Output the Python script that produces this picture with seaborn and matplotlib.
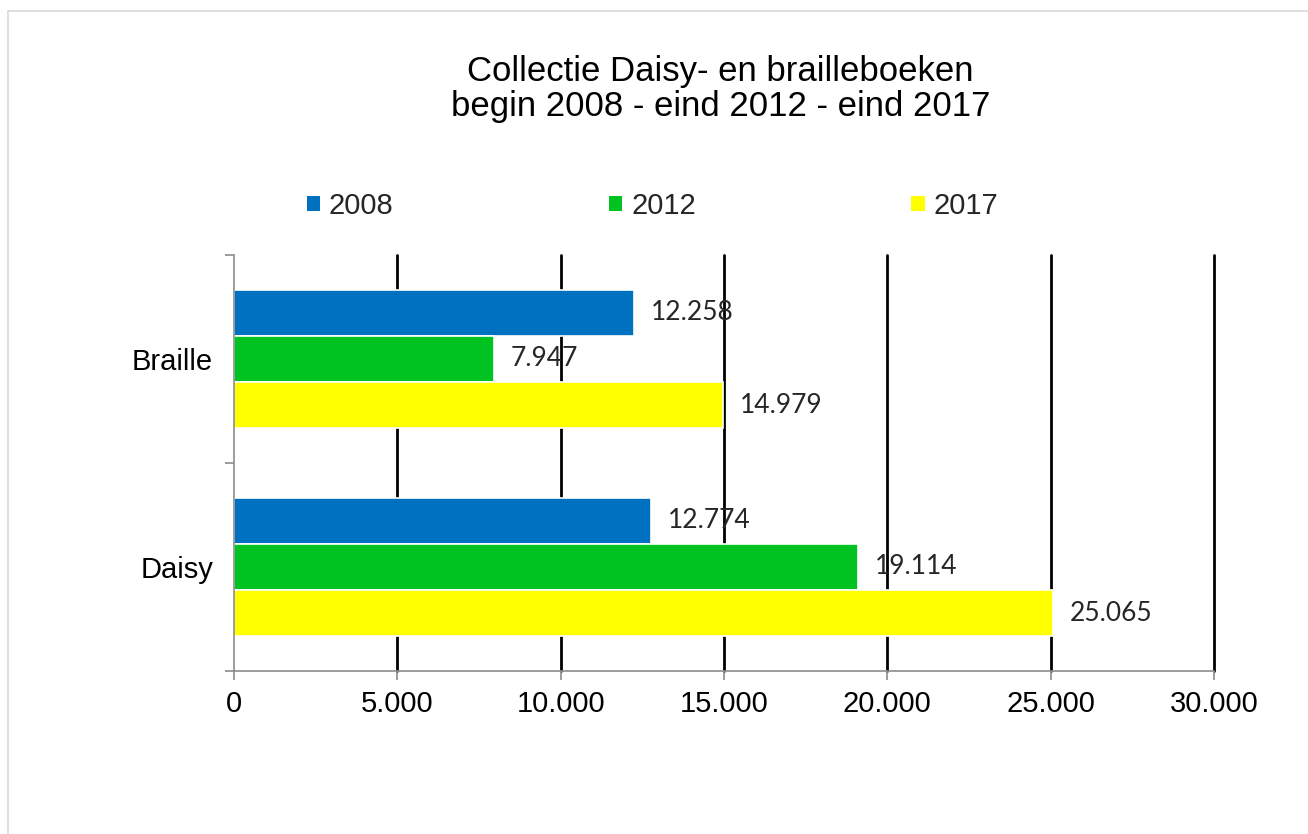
import matplotlib
matplotlib.use("Agg")
import matplotlib.pyplot as plt
import seaborn as sns
import pandas as pd
from matplotlib.patches import Patch
from matplotlib.lines import Line2D

categories = ["Braille", "Daisy"]
years = ["2008", "2012", "2017"]
values_2008 = [12258, 12774]
values_2012 = [7947, 19114]
values_2017 = [14979, 25065]
colors = ["#0070C0", "#00C322", "#FFFF00"]
x_ticks = [0, 5000, 10000, 15000, 20000, 25000, 30000]

rows = []
for yr, vals in zip(years, [values_2008, values_2012, values_2017]):
    for c, v in zip(categories, vals):
        rows.append({"category": c, "year": yr, "value": v})
df = pd.DataFrame(rows)

def fmt(v):
    return f"{v:,.0f}".replace(",", ".")

sns.set_theme(style="white")
plt.rcParams["font.family"] = ["Liberation Sans", "DejaVu Sans"]

fig = plt.figure(figsize=(13.08, 8.34), dpi=100)
ax = fig.add_axes([234/1308, 1-671/834, (1214-234)/1308, (671-255)/834])

sns.barplot(data=df, y="category", x="value", hue="year", order=categories,
            hue_order=years, palette=colors, saturation=1, orient="h", width=0.665,
            edgecolor="white", linewidth=1.2, ax=ax, legend=False)

ax.set_xlim(0, 30000)
ax.set_ylim(1.5, -0.5)
ax.set_xticks(x_ticks)
ax.set_xticklabels([fmt(t) for t in x_ticks], fontsize=21, color="black")
ax.set_yticks(range(len(categories)))
ax.set_yticklabels(categories, fontsize=21, color="black")
ax.set_yticks([-0.5, 0.5, 1.5], minor=True)
ax.set_xlabel("")
ax.set_ylabel("")

ax.set_axisbelow(True)
ax.xaxis.grid(True, color="black", linewidth=2.0)
ax.yaxis.grid(False)
gl = ax.get_xgridlines()
gl[0].set_visible(False)
for g in gl:
    g.set_clip_on(False)

for s in ["top", "right"]:
    ax.spines[s].set_visible(False)
for s in ["left", "bottom"]:
    ax.spines[s].set_color("#8C8C8C")
    ax.spines[s].set_linewidth(1.2)

ax.tick_params(axis="x", which="major", direction="out", length=6.5, width=1.2,
               color="#8C8C8C", pad=7, bottom=True)
ax.tick_params(axis="y", which="major", direction="in", length=4, width=1.0,
               color="#A6A6A6", pad=15, left=True)
ax.tick_params(axis="y", which="minor", direction="out", length=6.5, width=1.2,
               color="#8C8C8C", left=True)

for cont, vals in zip(ax.containers, [values_2008, values_2012, values_2017]):
    ax.bar_label(cont, labels=[fmt(v) for v in vals], padding=12, fontsize=19,
                 color="#262626", family=["Lato", "DejaVu Sans"])

fig.text(0.551, 1-89/834, "Collectie Daisy- en brailleboeken\nbegin 2008 - eind 2012 - eind 2017",
         ha="center", va="center", fontsize=25, linespacing=1.07, color="black")

handles = [Patch(facecolor=c, edgecolor="none") for c in colors]
fig.legend(handles, years, loc="center", ncol=3, mode="expand",
           bbox_to_anchor=(307/1308, 1-206/834, (998-307)/1308, 0),
           frameon=False, fontsize=21, handlelength=0.45, handleheight=0.45,
           handletextpad=0.3, borderpad=0, borderaxespad=0)

fig.add_artist(Line2D([8/1308, 1], [1-11/834, 1-11/834], transform=fig.transFigure,
                      color="#D9D9D9", linewidth=1.2))
fig.add_artist(Line2D([8/1308, 8/1308], [0, 1-11/834], transform=fig.transFigure,
                      color="#D9D9D9", linewidth=1.2))

fig.savefig("out.png", dpi=100, facecolor="white")
